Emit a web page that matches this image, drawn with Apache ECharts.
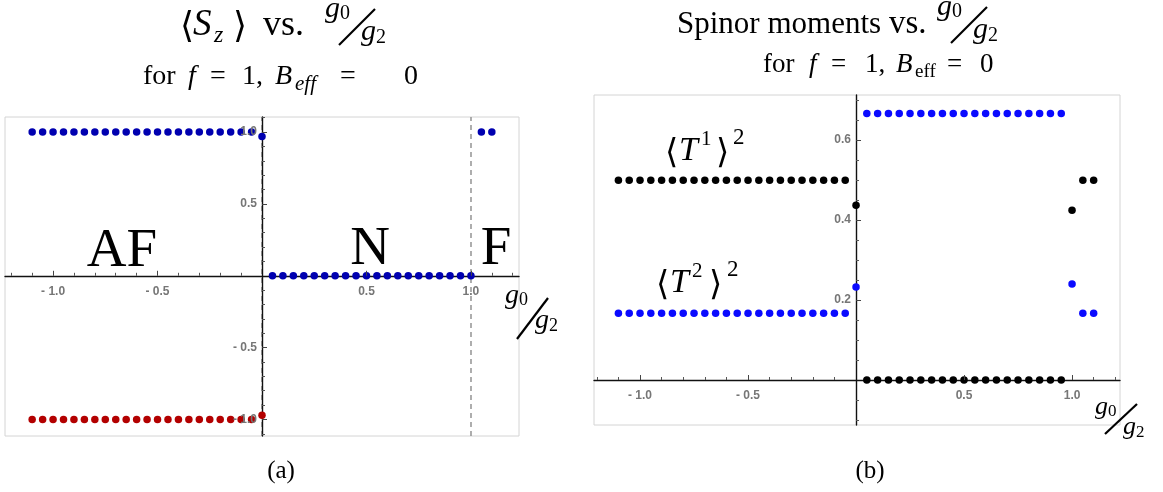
<!DOCTYPE html>
<html>
<head>
<meta charset="utf-8">
<script src="https://cdn.jsdelivr.net/npm/echarts@6/dist/echarts.min.js"></script>
<style>
  html, body { margin: 0; padding: 0; background: #fff; }
  #chart { width: 1163px; height: 492px; }
</style>
</head>
<body>
<div id="chart"></div>
<script>
// ---- data: g0/g2 sample points and the computed moments ----
const gAF = [-1.1, -1.05, -1.0, -0.95, -0.9, -0.85, -0.8, -0.75, -0.7, -0.65, -0.6,
             -0.55, -0.5, -0.45, -0.4, -0.35, -0.3, -0.25, -0.2, -0.15, -0.1, -0.05];
const gN = [0.05, 0.1, 0.15, 0.2, 0.25, 0.3, 0.35, 0.4, 0.45, 0.5,
            0.55, 0.6, 0.65, 0.7, 0.75, 0.8, 0.85, 0.9, 0.95];

// <S_z>, upper branch (AF, origin, N up to 1.0, F)
const gSzUpper = [...gAF, 0, ...gN, 1.0, 1.05, 1.1];
const szUpper = [1, 1, 1, 1, 1, 1, 1, 1, 1, 1, 1, 1, 1, 1, 1, 1, 1, 1, 1, 1, 1, 1,
                 0.97,
                 0, 0, 0, 0, 0, 0, 0, 0, 0, 0, 0, 0, 0, 0, 0, 0, 0, 0, 0,
                 0, 1, 1];
// <S_z>, lower branch (AF only)
const gSzLower = [...gAF, 0];
const szLower = [-1, -1, -1, -1, -1, -1, -1, -1, -1, -1, -1, -1, -1, -1, -1, -1, -1, -1, -1, -1, -1, -1,
                 -0.97];

// spinor moments
const gMoments = [...gAF, 0, ...gN, 1.0, 1.05, 1.1];
const t1Sq = [0.5, 0.5, 0.5, 0.5, 0.5, 0.5, 0.5, 0.5, 0.5, 0.5, 0.5, 0.5, 0.5, 0.5, 0.5, 0.5, 0.5, 0.5, 0.5, 0.5, 0.5, 0.5,
              0.437,
              0, 0, 0, 0, 0, 0, 0, 0, 0, 0, 0, 0, 0, 0, 0, 0, 0, 0, 0,
              0.425, 0.5, 0.5];
const t2Sq = [0.167, 0.167, 0.167, 0.167, 0.167, 0.167, 0.167, 0.167, 0.167, 0.167, 0.167,
              0.167, 0.167, 0.167, 0.167, 0.167, 0.167, 0.167, 0.167, 0.167, 0.167, 0.167,
              0.233,
              0.667, 0.667, 0.667, 0.667, 0.667, 0.667, 0.667, 0.667, 0.667, 0.667,
              0.667, 0.667, 0.667, 0.667, 0.667, 0.667, 0.667, 0.667, 0.667,
              0.24, 0.167, 0.167];

// phase boundaries drawn as dashed guides
const phaseBoundaries = [0, 1.0];

// ---- ticks ----
const gTickLabels = [-1.0, -0.5, 0.5, 1.0];
const gMinorTicks = [-1.2, -1.1, -0.9, -0.8, -0.7, -0.6, -0.4, -0.3, -0.2, -0.1,
                     0.1, 0.2, 0.3, 0.4, 0.6, 0.7, 0.8, 0.9, 1.1, 1.2];
const szTickLabels = [-1.0, -0.5, 0.5, 1.0];
const szMinorTicks = [-1.1, -0.9, -0.8, -0.7, -0.6, -0.4, -0.3, -0.2, -0.1,
                      0.1, 0.2, 0.3, 0.4, 0.6, 0.7, 0.8, 0.9, 1.1];
const momentTickLabels = [0.2, 0.4, 0.6];
const momentMinorTicks = [-0.1, -0.05, 0.05, 0.1, 0.15, 0.25, 0.3, 0.35, 0.45, 0.5, 0.55, 0.65, 0.7];

const zip = (xs, ys) => xs.map((x, i) => [x, ys[i]]);

// ---- plot frames ----
const GRID_L = { left: 5, top: 117, width: 514, height: 319 };
const GRID_R = { left: 594, top: 95, width: 526, height: 330 };

// ---- text helpers (serif math-style labels) ----
const SERIF = "'Liberation Serif', 'DejaVu Serif', serif";
const mctx = document.createElement('canvas').getContext('2d');
function baselineOffset(str, size, italic) {
  mctx.font = (italic ? 'italic ' : '') + size + 'px ' + SERIF;
  mctx.textBaseline = 'alphabetic';
  const a = mctx.measureText(str);
  mctx.textBaseline = 'middle';
  const b = mctx.measureText(str);
  return a.fontBoundingBoxAscent - b.fontBoundingBoxAscent;
}
// text whose left end sits at x and whose alphabetic baseline sits at `baseline`
function textEl(str, x, baseline, size, italic, align) {
  return {
    type: 'text', x: x, y: baseline - baselineOffset(str, size, italic), silent: true,
    style: { text: str, fontSize: size, fontFamily: SERIF, fontStyle: italic ? 'italic' : 'normal',
             fill: '#000', textAlign: align || 'left', textVerticalAlign: 'middle' }
  };
}
// slanted g0/g2 fraction; x = left of numerator, baseline = numerator baseline
function fracEls(x, baseline, f) {
  return [
    textEl('g', x, baseline, f.g, true),
    textEl('0', x + f.g * 0.5, baseline + 2, f.d, false),
    { type: 'line', silent: true,
      shape: { x1: x + f.s0[0], y1: baseline + f.s0[1], x2: x + f.s1[0], y2: baseline + f.s1[1] },
      style: { stroke: '#000', lineWidth: 2.2 } },
    textEl('g', x + f.dx, baseline + f.dy, f.g, true),
    textEl('2', x + f.dx + f.g * 0.5, baseline + f.dy + 3, f.d, false)
  ];
}
const FRAC_TITLE = { g: 30, d: 20, dx: 36, dy: 23, s0: [14, 28], s1: [50, -8] };
const FRAC_AXIS_L = { g: 28, d: 18, dx: 30, dy: 25, s0: [12, 36], s1: [43, -5] };
const FRAC_AXIS_R = { g: 26, d: 17, dx: 28, dy: 20, s0: [10, 20], s1: [42, -10] };

const graphics = [].concat(
  // left title
  textEl('\u27E8', 180, 37, 36, false),
  textEl('S', 193, 35, 37, true),
  textEl('z', 214, 42, 24, true),
  textEl('\u27E9', 233, 37, 36, false),
  textEl('vs.', 263, 35, 36, false),
  fracEls(325, 17, FRAC_TITLE),
  textEl('for', 143, 84, 28, false),
  textEl('f', 188, 84, 28, true),
  textEl('=', 210, 84, 28, false),
  textEl('1,', 242, 84, 28, false),
  textEl('B', 275, 84, 28, true),
  textEl('eff', 295, 90, 21, true),
  textEl('=', 340, 84, 28, false),
  textEl('0', 404, 84, 28, false),
  // right title
  textEl('Spinor moments', 677, 33, 31, false),
  textEl('vs.', 889, 33, 33, false),
  fracEls(937, 15, FRAC_TITLE),
  textEl('for', 763, 72, 27, false),
  textEl('f', 809, 72, 27, true),
  textEl('=', 831, 72, 27, false),
  textEl('1,', 865, 72, 27, false),
  textEl('B', 896, 72, 27, true),
  textEl('eff', 915, 77, 19, false),
  textEl('=', 947, 72, 27, false),
  textEl('0', 980, 72, 27, false),
  // axis names
  fracEls(505, 303, FRAC_AXIS_L),
  fracEls(1095, 414, FRAC_AXIS_R),
  // phase labels
  textEl('AF', 122, 266, 55, false, 'center'),
  textEl('N', 370, 264, 55, false, 'center'),
  textEl('F', 496, 264, 55, false, 'center'),
  // moment labels
  textEl('\u27E8', 665, 163, 34, false),
  textEl('T', 679, 160, 34, true),
  textEl('1', 701, 145, 21, false),
  textEl('\u27E9', 716, 163, 34, false),
  textEl('2', 733, 144, 23, false),
  textEl('\u27E8', 656, 295, 34, false),
  textEl('T', 670, 292, 34, true),
  textEl('2', 692, 277, 21, false),
  textEl('\u27E9', 709, 295, 34, false),
  textEl('2', 727, 276, 23, false),
  // panel captions
  textEl('(a)', 281, 478, 25, false, 'center'),
  textEl('(b)', 870, 478, 25, false, 'center')
);

// ---- axes ----
const tickFmt = v => (v < 0 ? '- ' + (-v).toFixed(1) : v.toFixed(1));
const labelStyle = { color: '#767676', fontWeight: 'bold', fontSize: 12, fontFamily: "'Liberation Sans', Arimo, sans-serif" };

// each plotted dimension gets a labelled axis (major ticks) and a bare axis (line + minor ticks)
function axisPair(dim, gridIndex, min, max, majors, minors) {
  const position = dim === 'x' ? 'bottom' : 'left';
  const major = {
    type: 'value', gridIndex, min, max, position, z: 5,
    axisLine: { show: false, onZero: false },
    axisTick: { show: true, inside: true, length: 5, customValues: majors, lineStyle: { color: '#444', width: 1 } },
    axisLabel: Object.assign({ show: true, customValues: majors, formatter: tickFmt, margin: dim === 'x' ? 10 : 5 }, labelStyle),
    splitLine: { show: false }
  };
  const minor = {
    type: 'value', gridIndex, min, max, position, z: 3,
    axisLine: { show: true, onZero: false, lineStyle: { color: '#111', width: 1.4 } },
    axisTick: { show: true, inside: true, length: 3, customValues: minors, lineStyle: { color: '#555', width: 1 } },
    axisLabel: { show: false },
    splitLine: { show: false }
  };
  return [major, minor];
}

const xAxes = [].concat(
  axisPair('x', 0, -1.23, 1.23, gTickLabels, gMinorTicks),
  axisPair('x', 1, -1.213, 1.222, gTickLabels, gMinorTicks)
);
const yAxes = [].concat(
  axisPair('y', 0, -1.115, 1.105, szTickLabels, szMinorTicks),
  axisPair('y', 1, -0.1125, 0.713, momentTickLabels, momentMinorTicks)
);

const gridStyle = { show: true, borderColor: '#d4d4d4', borderWidth: 1, containLabel: false, outerBoundsMode: 'none' };

const chart = echarts.init(document.getElementById('chart'), null, { renderer: 'canvas' });
chart.setOption({
  animation: false,
  backgroundColor: '#fff',
  grid: [Object.assign({}, GRID_L, gridStyle), Object.assign({}, GRID_R, gridStyle)],
  xAxis: xAxes,
  yAxis: yAxes,
  series: [
    {
      name: 'Sz lower', type: 'scatter', xAxisIndex: 0, yAxisIndex: 0, z: 4,
      data: zip(gSzLower, szLower), symbolSize: 7.5, itemStyle: { color: '#b30000', opacity: 1 }
    },
    {
      name: 'Sz upper', type: 'scatter', xAxisIndex: 0, yAxisIndex: 0, z: 4,
      data: zip(gSzUpper, szUpper), symbolSize: 7.5, itemStyle: { color: '#0000b0', opacity: 1 },
      markLine: {
        silent: true, z: 1, symbol: ['none', 'none'], label: { show: false },
        lineStyle: { type: [5, 4], color: '#9a9a9a', width: 1.6 },
        data: phaseBoundaries.map(v => ({ xAxis: v }))
      }
    },
    {
      name: '<T1>^2', type: 'scatter', xAxisIndex: 2, yAxisIndex: 2, z: 4,
      data: zip(gMoments, t1Sq), symbolSize: 7.5, itemStyle: { color: '#000000', opacity: 1 }
    },
    {
      name: '<T2>^2', type: 'scatter', xAxisIndex: 2, yAxisIndex: 2, z: 4,
      data: zip(gMoments, t2Sq), symbolSize: 7.5, itemStyle: { color: '#0a0aff', opacity: 1 }
    }
  ],
  graphic: { elements: graphics }
});

// move each axis pair onto the other axis's zero, keeping its labels beside the line
const zeroYL = chart.convertToPixel({ yAxisIndex: 0 }, 0);
const zeroXL = chart.convertToPixel({ xAxisIndex: 0 }, 0);
const zeroYR = chart.convertToPixel({ yAxisIndex: 2 }, 0);
const zeroXR = chart.convertToPixel({ xAxisIndex: 2 }, 0);
const offXL = zeroYL - (GRID_L.top + GRID_L.height);
const offXR = zeroYR - (GRID_R.top + GRID_R.height);
const offYL = GRID_L.left - zeroXL;
const offYR = GRID_R.left - zeroXR;
chart.setOption({
  xAxis: [{ offset: offXL }, { offset: offXL }, { offset: offXR }, { offset: offXR }],
  yAxis: [{ offset: offYL }, { offset: offYL }, { offset: offYR }, { offset: offYR }]
});
</script>
</body>
</html>
